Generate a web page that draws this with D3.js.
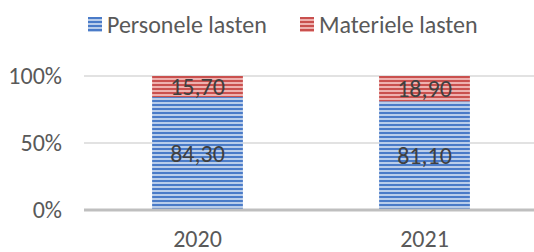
<!DOCTYPE html>
<html>
<head>
<meta charset="utf-8">
<script src="https://cdn.jsdelivr.net/npm/d3@7"></script>
<style>
  body { margin: 0; background: #fff; }
  text { font-family: Carlito, Calibri, Lato, sans-serif; }
</style>
</head>
<body>
<div id="chart"></div>
<script>
// chart data
const years = ["2020", "2021"];
const personele = [84.3, 81.1];
const materiele = [15.7, 18.9];
const seriesNames = ["Personele lasten", "Materiele lasten"];
const yTicks = [0, 50, 100];

const width = 534, height = 252;
const margin = { top: 76, right: -4, bottom: 42, left: 84 };
const plotW = width - margin.left - margin.right;
const plotH = height - margin.top - margin.bottom;

const svg = d3.select("#chart").append("svg")
  .attr("width", width)
  .attr("height", height);

// striped fills
const defs = svg.append("defs");
function stripes(id, dark, light) {
  const p = defs.append("pattern")
    .attr("id", id)
    .attr("patternUnits", "userSpaceOnUse")
    .attr("width", 8).attr("height", 4);
  p.append("rect").attr("width", 8).attr("height", 4).attr("fill", light);
  p.append("rect").attr("y", 0).attr("width", 8).attr("height", 2).attr("fill", dark);
}
stripes("blueStripe", "#4a7bc8", "#b9cdea");
stripes("redStripe", "#c9504e", "#eeb1af");

const colors = ["url(#blueStripe)", "url(#redStripe)"];

const g = svg.append("g")
  .attr("transform", "translate(" + margin.left + "," + margin.top + ")");

const x = d3.scaleBand()
  .domain(years)
  .range([0, plotW])
  .paddingInner(0.6)
  .paddingOuter(0.3);

const y = d3.scaleLinear()
  .domain([0, 100])
  .range([plotH, 0]);

// gridlines
g.selectAll(".grid")
  .data(yTicks.filter(d => d > 0))
  .enter()
  .append("line")
  .attr("x1", 0)
  .attr("x2", plotW)
  .attr("y1", d => y(d))
  .attr("y2", d => y(d))
  .attr("stroke", "#d9d9d9")
  .attr("stroke-width", 1.5);

// y labels
g.selectAll(".ylab")
  .data(yTicks)
  .enter()
  .append("text")
  .attr("x", -22)
  .attr("y", d => y(d))
  .attr("dy", "0.35em")
  .attr("text-anchor", "end")
  .attr("fill", "#595959")
  .style("font-size", "24px")
  .text(d => d + "%");

// stacked bars
const rows = years.map((yr, i) => ({ year: yr, Personele: personele[i], Materiele: materiele[i] }));
const stack = d3.stack().keys(["Personele", "Materiele"])(rows);

const layers = g.selectAll(".layer")
  .data(stack)
  .enter()
  .append("g")
  .attr("fill", (d, i) => colors[i]);

layers.selectAll("rect")
  .data(d => d)
  .enter()
  .append("rect")
  .attr("x", d => x(d.data.year))
  .attr("y", d => y(d[1]))
  .attr("width", x.bandwidth())
  .attr("height", d => y(d[0]) - y(d[1]));

// data labels
layers.selectAll("text")
  .data(d => d)
  .enter()
  .append("text")
  .attr("x", d => x(d.data.year) + x.bandwidth() / 2)
  .attr("y", d => (y(d[0]) + y(d[1])) / 2)
  .attr("dy", "0.35em")
  .attr("text-anchor", "middle")
  .attr("fill", "#404040")
  .style("font-size", "24px")
  .text(d => (d[1] - d[0]).toFixed(2).replace(".", ","));

// x axis line
g.append("line")
  .attr("x1", 0)
  .attr("x2", plotW)
  .attr("y1", plotH)
  .attr("y2", plotH)
  .attr("stroke", "#bfbfbf")
  .attr("stroke-width", 3);

// x labels
g.selectAll(".xlab")
  .data(years)
  .enter()
  .append("text")
  .attr("x", d => x(d) + x.bandwidth() / 2)
  .attr("y", plotH + 29)
  .attr("dy", "0.35em")
  .attr("text-anchor", "middle")
  .attr("fill", "#595959")
  .style("font-size", "24px")
  .text(d => d);

// legend
const legendX = [88, 300];
const legend = svg.selectAll(".legend")
  .data(seriesNames)
  .enter()
  .append("g")
  .attr("transform", (d, i) => "translate(" + legendX[i] + ",17)");

legend.append("rect")
  .attr("width", 14)
  .attr("height", 15)
  .attr("fill", (d, i) => colors[i]);

legend.append("text")
  .attr("x", 19)
  .attr("y", 7.5)
  .attr("dy", "0.35em")
  .attr("fill", "#595959")
  .style("font-size", "24px")
  .text(d => d);
</script>
</body>
</html>
